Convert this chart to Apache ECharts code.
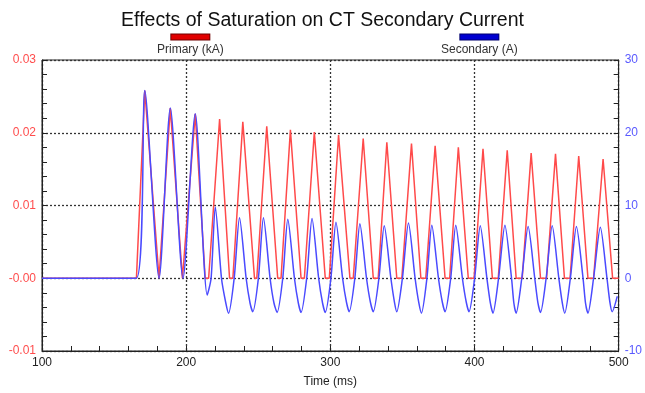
<!DOCTYPE html>
<html>
<head>
<meta charset="utf-8">
<title>Effects of Saturation on CT Secondary Current</title>
<script src="https://cdn.jsdelivr.net/npm/echarts@6/dist/echarts.min.js"></script>
<style>
html,body{margin:0;padding:0;background:#fff;}
#main{width:645px;height:393px;}
</style>
</head>
<body>
<div id="main"></div>
<script>
// primary current (kA): peak, then flat trough start/end
var primaryTime = [100,165.5, 171.3,181.2, 189,197.4,198.3, 206.3,213.2,215.6,
    223.2,230.1,232.4, 239.3,247.4,249, 255.9,263.5,265.8, 272.3,279.7,282,
    288.9,296.5,299.3, 305.7,313.6,315.9, 322.8,329.8,333.2, 339.2,346.1,349.6,
    356.3,362.8,366.2, 372.7,379.6,382.8, 388.8,395.7,399.7, 405.9,412.4,416.5,
    422.7,428.9,433.1, 439.3,445.8,450, 456.2,462.4,466.3, 472.3,478.7,482.6,
    489.2,495.8,500];
var primaryKA = [0,0, 0.0258,0, 0.0234,0,0, 0.0226,0,0,
    0.0219,0,0, 0.0215,0,0, 0.0209,0,0, 0.0204,0,0,
    0.0201,0,0, 0.0197,0,0, 0.0192,0,0, 0.0187,0,0,
    0.0185,0,0, 0.0182,0,0, 0.0180,0,0, 0.0178,0,0,
    0.0176,0,0, 0.0172,0,0, 0.0171,0,0, 0.0168,0,0,
    0.0164,0,0];

// secondary current (A)
var secondaryTime = [100,165.5, 171.3,181.2, 189,197.8, 206.3,214.6,
    217.3,220.2,224.5,227.5,229.4, 233.3,237,241.6,244.3,246.2,
    250.1,253.6,258.2,260.9,263.1, 267,270.5,275.1,277.8,279.7,
    283.6,287.3,291.9,294.6,296.5, 300.4,303.9,308.5,311.2,313.1,
    317,320.5,325.1,327.8,329.8, 333.7,337.4,342,344.5,346.1,
    350,354.2,358.8,361.4,363.2, 367,370.4,375,377.7,379.6,
    383.5,387,391.6,394.3,396.2, 400.1,404,408.6,411,412.8,
    416.7,421.1,425.7,427.3,428.9, 432.8,437.2,441.8,444,445.8,
    449.7,453.9,458.5,460.9,462.6, 466.5,470.7,475.3,477,478.7,
    482.6,487.3,491.9,494,495.5, 499];
var secondaryA = [0,0, 25.8,0, 23.4,0, 22.6,-2.3,
    0,9.8,0,-3.4,-4.8, 0,8.3,0,-3.4,-4.6,
    0,8.3,0,-3.4,-4.7, 0,8.1,0,-3.4,-4.7,
    0,8.2,0,-3.4,-4.7, 0,7.7,0,-3.3,-4.6,
    0,7.5,0,-3.3,-4.6, 0,7.2,0,-3.3,-4.6,
    0,7.6,0,-3.4,-4.8, 0,7.3,0,-3.3,-4.6,
    0,7.3,0,-3.3,-4.6, 0,7.2,0,-3.4,-4.8,
    0,7.3,0,-3.4,-4.8, 0,7.1,0,-3.4,-4.7,
    0,7.2,0,-3.4,-4.8, 0,7.1,0,-3.4,-4.8,
    0,7.0,0,-3.4,-4.6, -2.5];

var leftTicks = [-0.01, 0, 0.01, 0.02, 0.03];
var leftTickLabels = ['-0.01', '-0.00', '0.01', '0.02', '0.03'];

function zip(xs, ys) {
    var out = [];
    for (var i = 0; i < xs.length; i++) {
        out.push([xs[i], ys[i]]);
    }
    return out;
}

var myChart = echarts.init(document.getElementById('main'));

var dotted = {color: '#333', type: [2, 2], width: 1.3};

function legendFor(name, color, edge, left) {
    return {
        data: [name],
        left: left,
        top: 26,
        icon: 'none',
        itemWidth: 0,
        itemHeight: 0,
        selectedMode: false,
        formatter: function (n) { return '{bar|}\n{txt|' + n + '}'; },
        textStyle: {
            rich: {
                bar: {width: 38, height: 5, backgroundColor: color, borderColor: edge, borderWidth: 1, align: 'center'},
                txt: {fontSize: 12, color: '#333', fontFamily: 'Liberation Sans', padding: [4, 0, 0, 0], align: 'center'}
            }
        }
    };
}

var option = {
    animation: false,
    title: {
        text: 'Effects of Saturation on CT Secondary Current',
        left: 'center',
        top: 6,
        textStyle: {fontSize: 19.5, fontWeight: 'normal', color: '#111', fontFamily: 'Liberation Sans'}
    },
    legend: [
        legendFor('Primary (kA)', '#e00000', '#700000', 147),
        legendFor('Secondary (A)', '#0000d0', '#000070', 431)
    ],
    grid: {
        left: 42, right: 25, top: 60, bottom: 42,
        show: true, borderColor: '#222', borderWidth: 1
    },
    xAxis: {
        type: 'value',
        min: 100, max: 500, interval: 100,
        name: 'Time (ms)',
        nameLocation: 'middle',
        nameGap: 25,
        nameTextStyle: {fontSize: 12, color: '#222', fontFamily: 'Liberation Sans'},
        axisLine: {onZero: false, lineStyle: {color: '#222'}},
        axisTick: {show: true, inside: true, length: 5, lineStyle: {color: '#222'}},
        minorTick: {show: true, splitNumber: 5, length: 5, lineStyle: {color: '#222'}},
        axisLabel: {fontSize: 12, color: '#222', margin: 6, fontFamily: 'Liberation Sans'},
        splitLine: {show: true, lineStyle: dotted}
    },
    yAxis: [
        {
            type: 'value',
            min: -0.01, max: 0.03, interval: 0.01,
            position: 'left',
            axisLine: {show: true, lineStyle: {color: '#222'}},
            axisTick: {show: true, inside: true, length: 5, lineStyle: {color: '#222'}},
            minorTick: {show: true, splitNumber: 5, length: 5, lineStyle: {color: '#222'}},
            axisLabel: {
                fontSize: 12, color: '#ff4d4d', margin: 6, fontFamily: 'Liberation Sans',
                formatter: function (v) {
                    for (var i = 0; i < leftTicks.length; i++) {
                        if (Math.abs(v - leftTicks[i]) < 1e-9) return leftTickLabels[i];
                    }
                    return '';
                }
            },
            splitLine: {show: true, lineStyle: dotted}
        },
        {
            type: 'value',
            min: -10, max: 30, interval: 10,
            position: 'right',
            axisLine: {show: true, lineStyle: {color: '#222'}},
            axisTick: {show: true, inside: true, length: 5, lineStyle: {color: '#222'}},
            minorTick: {show: true, splitNumber: 5, length: 5, lineStyle: {color: '#222'}},
            axisLabel: {fontSize: 12, color: '#5a5aff', margin: 6, fontFamily: 'Liberation Sans'},
            splitLine: {show: false}
        }
    ],
    series: [
        {
            name: 'Primary (kA)',
            type: 'line',
            yAxisIndex: 0,
            showSymbol: false,
            color: '#ff3030',
            lineStyle: {color: '#ff4a4a', width: 1.5},
            data: zip(primaryTime, primaryKA)
        },
        {
            name: 'Secondary (A)',
            type: 'line',
            yAxisIndex: 1,
            showSymbol: false,
            smooth: 0.25,
            color: '#0000d0',
            lineStyle: {color: '#4a4aff', width: 1.5},
            data: zip(secondaryTime, secondaryA)
        }
    ]
};

myChart.setOption(option);
</script>
</body>
</html>
